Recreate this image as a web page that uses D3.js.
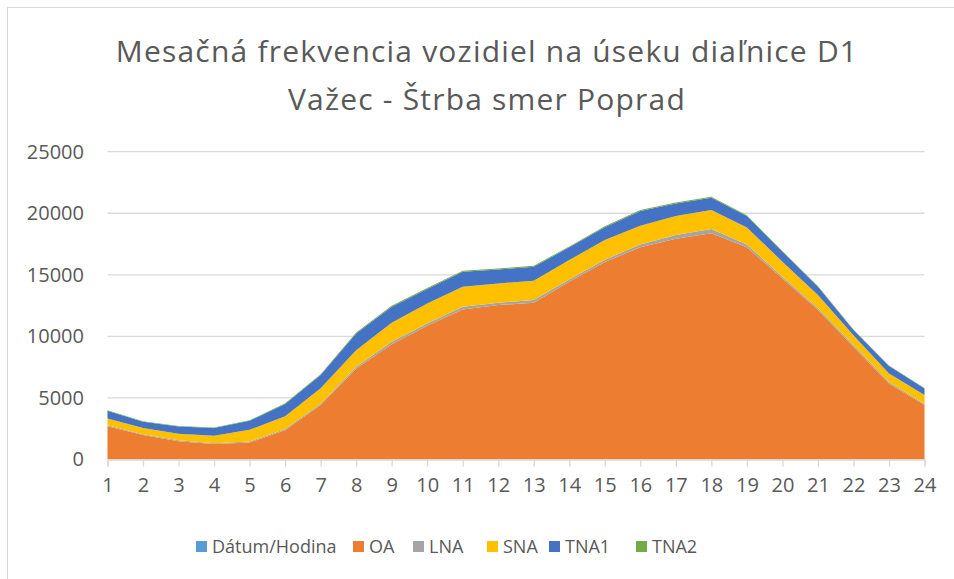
<!DOCTYPE html>
<html>
<head>
<meta charset="utf-8">
<script src="https://cdn.jsdelivr.net/npm/d3@7"></script>
<style>
  body { margin: 0; background: #fff; }
  text { font-family: "Open Sans", sans-serif; fill: #595959; }
</style>
</head>
<body>
<div id="chart"></div>
<script>
// hours of the day
var hours = d3.range(1, 25);

var seriesNames = ["Dátum/Hodina", "OA", "LNA", "SNA", "TNA1", "TNA2"];
var seriesColors = ["#5b9bd5", "#ed7d31", "#a5a5a5", "#ffc000", "#4472c4", "#70ad47"];

var datum = [0,0,0,0,0,0,0,0,0,0,0,0,0,0,0,0,0,0,0,0,0,0,0,0];
var oa   = [2710,2000,1490,1250,1380,2380,4420,7370,9370,10860,12190,12540,12730,14440,16040,17230,17930,18370,17230,14710,12140,9160,6180,4420];
var lna  = [80,60,80,80,80,90,110,160,190,190,220,190,220,190,190,240,300,350,240,140,140,130,110,80];
var sna  = [540,490,515,600,950,1050,1250,1350,1540,1630,1620,1570,1570,1570,1600,1520,1540,1540,1380,1220,1080,810,700,730];
var tna1 = [620,510,600,620,730,980,1080,1350,1300,1160,1220,1140,1140,1030,1030,1190,1030,1000,920,810,680,410,600,540];
var tna2 = [50,50,40,40,50,60,70,80,80,80,80,80,80,80,80,80,80,80,70,60,60,50,50,40];

var yTicks = [0, 5000, 10000, 15000, 20000, 25000];

var W = 954, H = 579;

var rows = hours.map(function(h, i) {
  return {hour: h, "Dátum/Hodina": datum[i], OA: oa[i], LNA: lna[i], SNA: sna[i], TNA1: tna1[i], TNA2: tna2[i]};
});

var svg = d3.select("#chart").append("svg")
            .attr("width", W)
            .attr("height", H);

// chart frame (cut at right/bottom in the source)
svg.append("rect")
   .attr("x", 7.5).attr("y", 7.5)
   .attr("width", W + 20).attr("height", H + 20)
   .attr("fill", "#fff")
   .attr("stroke", "#d9d9d9");

var x = d3.scalePoint()
          .domain(hours)
          .range([107.5, 924.5]);
var y = d3.scaleLinear()
          .domain([0, 25000])
          .range([459.5, 151.7]);

// gridlines
svg.append("g").selectAll("line")
   .data(yTicks.slice(1))
   .enter().append("line")
   .attr("x1", 107.5).attr("x2", 924.5)
   .attr("y1", function(d) { return y(d); })
   .attr("y2", function(d) { return y(d); })
   .attr("stroke", "#d9d9d9")
   .attr("stroke-width", 1.3);

var stack = d3.stack().keys(seriesNames);
var layers = stack(rows);

var area = d3.area()
             .x(function(d) { return x(d.data.hour); })
             .y0(function(d) { return y(d[0]); })
             .y1(function(d) { return y(d[1]); });

svg.append("g").selectAll("path")
   .data(layers)
   .enter().append("path")
   .attr("d", area)
   .attr("fill", function(d, i) { return seriesColors[i]; });

// x axis
var xAxis = d3.axisBottom(x).tickSize(7).tickPadding(11);
var gx = svg.append("g")
            .attr("transform", "translate(0,459.5)")
            .call(xAxis);
gx.select(".domain").attr("stroke", "#d9d9d9").attr("stroke-width", 1.3);
gx.selectAll(".tick line").attr("stroke", "#d9d9d9").attr("stroke-width", 1.3);
gx.selectAll(".tick text")
  .style("font-size", "20px")
  .attr("fill", "#595959");

// y axis labels
var yAxis = d3.axisLeft(y).tickValues(yTicks).tickFormat(d3.format("d")).tickSize(0).tickPadding(0);
var gy = svg.append("g")
            .attr("transform", "translate(84,0)")
            .call(yAxis);
gy.select(".domain").remove();
gy.selectAll(".tick text")
  .style("font-size", "20px")
  .attr("fill", "#595959");

// title
var title = svg.append("text")
               .attr("text-anchor", "middle")
               .style("font-size", "30px")
               .style("letter-spacing", "1.2px");
title.append("tspan").attr("x", 487).attr("y", 62)
     .text("Mesačná frekvencia vozidiel na úseku diaľnice D1");
title.append("tspan").attr("x", 487).attr("y", 110)
     .text("Važec - Štrba smer Poprad");

// legend
var legendX = [196, 353, 413, 487, 549, 636];
var legend = svg.append("g").selectAll("g")
                .data(seriesNames)
                .enter().append("g")
                .attr("transform", function(d, i) { return "translate(" + legendX[i] + ",541)"; });
legend.append("rect")
      .attr("width", 11).attr("height", 11)
      .attr("fill", function(d, i) { return seriesColors[i]; });
legend.append("text")
      .attr("x", 16).attr("y", 5.5)
      .attr("dy", "0.35em")
      .style("font-size", "18px")
      .text(function(d) { return d; });
</script>
</body>
</html>
